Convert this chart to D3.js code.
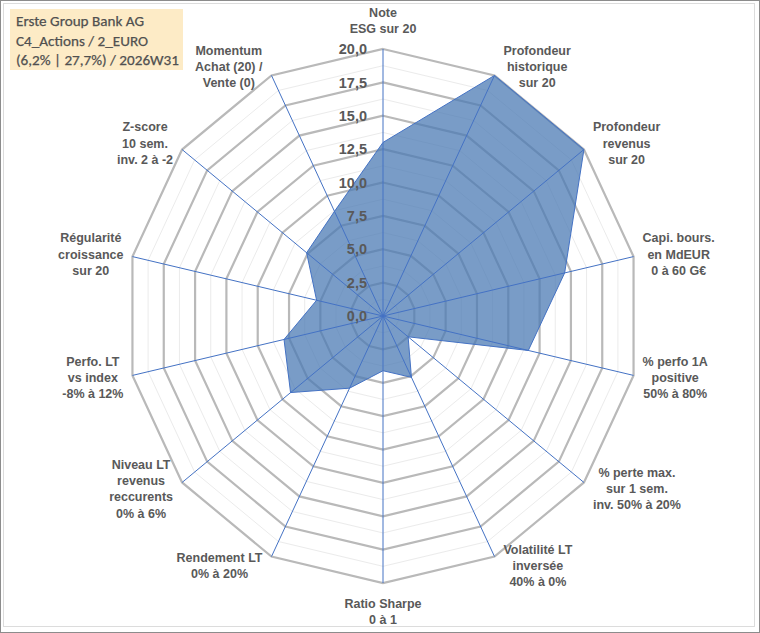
<!DOCTYPE html>
<html>
<head>
<meta charset="utf-8">
<script src="https://cdn.jsdelivr.net/npm/d3@7"></script>
<style>
  body { margin: 0; background: #fff; }
  svg { display: block; }
</style>
</head>
<body>
<svg id="chart" width="760" height="633"></svg>
<script>
// axis names, clockwise from the top
const axisLabels = [
  ["Note", "ESG sur 20"],
  ["Profondeur", "historique", "sur 20"],
  ["Profondeur", "revenus", "sur 20"],
  ["Capi. bours.", "en MdEUR", "0 à 60 G€"],
  ["% perfo 1A", "positive", "50% à 80%"],
  ["% perte max.", "sur 1 sem.", "inv. 50% à 20%"],
  ["Volatilité LT", "inversée", "40% à 0%"],
  ["Ratio Sharpe", "0 à 1"],
  ["Rendement LT", "0% à 20%"],
  ["Niveau LT", "revenus", "reccurents", "0% à 6%"],
  ["Perfo. LT", "vs index", "-8% à 12%"],
  ["Régularité", "croissance", "sur 20"],
  ["Z-score", "10 sem.", "inv. 2 à -2"],
  ["Momentum", "Achat (20) /", "Vente (0)"]
];
// scores (0..20)
const scores = [13, 20, 20, 14.5, 11.6, 2.5, 5.1, 4.1, 6.0, 9.2, 7.9, 5.3, 7.6, 8.7];
const majorTicks = [0, 2.5, 5, 7.5, 10, 12.5, 15, 17.5, 20];
const minorTicks = [1.25, 3.75, 6.25, 8.75, 11.25, 13.75, 16.25, 18.75];
const titleLines = ["Erste Group Bank AG", "C4_Actions / 2_EURO", "(6,2% | 27,7%) / 2026W31"];

const svg = d3.select("#chart");
const cx = 383, cy = 316, rx = 257, ry = 267;
const n = axisLabels.length;

const r = d3.scaleLinear().domain([0, 20]).range([0, 1]);
const angle = d3.scaleLinear().domain([0, n]).range([0, 2 * Math.PI]);
const px = (v, i) => cx + rx * r(v) * Math.sin(angle(i));
const py = (v, i) => cy - ry * r(v) * Math.cos(angle(i));
const fmt = v => d3.format(".1f")(v).replace(".", ",");

// frame
svg.append("rect").attr("x", 0.5).attr("y", 0.5).attr("width", 759).attr("height", 632)
  .attr("fill", "#fff").attr("stroke", "#8c8c8c");
svg.append("rect").attr("x", 3.5).attr("y", 3.5).attr("width", 751).attr("height", 623)
  .attr("fill", "none").attr("stroke", "#dcdcdc");

const ring = d3.line().x(d => px(d[0], d[1])).y(d => py(d[0], d[1])).curve(d3.curveLinearClosed);
const ringPts = v => d3.range(n).map(i => [v, i]);

// gridlines
svg.append("g").selectAll("path").data(minorTicks).join("path")
  .attr("d", v => ring(ringPts(v)))
  .attr("fill", "none").attr("stroke", "#ebebeb").attr("stroke-width", 1);
svg.append("g").selectAll("path").data(majorTicks.filter(v => v > 0)).join("path")
  .attr("d", v => ring(ringPts(v)))
  .attr("fill", "none").attr("stroke", "#b9b9b9").attr("stroke-width", 2.2);

// series area
const area = scores.map((v, i) => [v, i]);
svg.append("path").attr("d", ring(area))
  .attr("fill", "#4a7ab4").attr("fill-opacity", 0.74).attr("stroke", "none");

// spokes
svg.append("g").selectAll("line").data(d3.range(n)).join("line")
  .attr("x1", cx).attr("y1", cy)
  .attr("x2", i => px(20, i)).attr("y2", i => py(20, i))
  .attr("stroke", "#4472c4").attr("stroke-width", 1);

svg.append("path").attr("d", ring(area))
  .attr("fill", "none").attr("stroke", "#4472c4").attr("stroke-width", 1);

// value axis labels
svg.append("g").selectAll("text").data(majorTicks).join("text")
  .attr("x", cx - 16).attr("y", v => py(v, 0)).attr("dy", "0.36em")
  .attr("text-anchor", "end")
  .attr("font-family", "Liberation Sans, Arial, sans-serif").attr("font-weight", "bold")
  .attr("font-size", 14.5).attr("fill", "#595959")
  .text(fmt);

// category labels
const lh = 16.3;
const labels = svg.append("g")
  .attr("font-family", "Liberation Sans, Arial, sans-serif").attr("font-weight", "bold")
  .attr("font-size", 12.5).attr("fill", "#595959").attr("text-anchor", "middle");

axisLabels.forEach((lines, i) => {
  const t = labels.append("text");
  lines.forEach(s => t.append("tspan").text(s));
  const w = d3.max(t.selectAll("tspan").nodes(), nd => nd.getComputedTextLength());
  const h = lines.length * lh;
  const s = Math.sin(angle(i)), c = Math.cos(angle(i));
  const ex = px(20, i), ey = py(20, i);
  let x, y;
  if (Math.abs(s) < 0.01) {
    x = ex;
    y = ey - Math.sign(c) * (h / 2 + 12);
  } else {
    x = ex + Math.sign(s) * (9 + w / 2);
    y = ey - c * 10;
  }
  t.selectAll("tspan")
    .attr("x", x)
    .attr("y", (d, k) => y + (k - (lines.length - 1) / 2) * lh)
    .attr("dy", "0.35em");
});

// title box
const tb = svg.append("g");
tb.append("rect").attr("x", 10).attr("y", 9).attr("width", 173).attr("height", 61)
  .attr("fill", "#fdebc6");
const tt = tb.append("text")
  .attr("font-family", "Carlito, Lato, sans-serif").attr("font-size", 15)
  .attr("fill", "#505050").attr("stroke", "#505050").attr("stroke-width", 0.25);
titleLines.forEach((s, k) => tt.append("tspan").attr("x", 16).attr("y", 21 + k * 19.5)
  .attr("dy", "0.35em").text(s));
const tw = d3.max(tt.selectAll("tspan").nodes(), nd => nd.getComputedTextLength());
tt.attr("font-size", 15 * 163 / tw);
</script>
</body>
</html>
